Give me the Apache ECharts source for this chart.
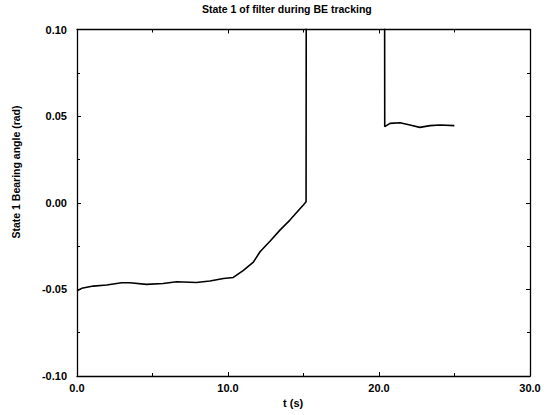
<!DOCTYPE html>
<html>
<head>
<meta charset="utf-8">
<script src="https://cdn.jsdelivr.net/npm/echarts@6/dist/echarts.min.js"></script>
<style>html,body{margin:0;padding:0;background:#fff;}#c{width:544px;height:415px;}</style>
</head>
<body>
<div id="c"></div>
<script>
const titleText = 'State 1 of filter during BE tracking';
const xName = 't (s)';
const yName = 'State 1 Bearing angle (rad)';
const xTicks = [0, 10, 20, 30];
const yTicks = [-0.10, -0.05, 0.00, 0.05, 0.10];

// time (s)
const tVals = [0, 0.31, 1.08, 1.96, 2.96, 3.5, 4.6, 5.7, 6.6, 7.9, 8.8, 9.7, 10.35, 11.0, 11.68, 12.12, 12.78, 13.44, 14.1, 14.99, 15.17, 15.2,
               20.35, 20.38, 20.73, 21.39, 22.05, 22.7, 23.38, 24.04, 24.99];
// state 1 bearing angle (rad); values above 0.10 are off scale
const yVals = [-0.0508, -0.0494, -0.0481, -0.0475, -0.0462, -0.0462, -0.0471, -0.0466, -0.0456, -0.0460, -0.0452, -0.0437, -0.0431, -0.0392, -0.0343, -0.0283, -0.0222, -0.0158, -0.0100, -0.0013, 0.0006, 0.30,
               0.30, 0.0439, 0.0458, 0.0462, 0.0449, 0.0435, 0.0445, 0.0449, 0.0445];

const data = tVals.map((t, i) => [t, yVals[i]]);

const chart = echarts.init(document.getElementById('c'), null, {renderer: 'svg'});
const font = 'Liberation Sans, Arial, sans-serif';
const axisCommon = {
  axisLine: {show: true, onZero: false, lineStyle: {color: '#000', width: 1.3}},
  axisTick: {show: true, inside: true, length: 4, lineStyle: {color: '#000'}},
  minorTick: {show: true, splitNumber: 2, length: 3, lineStyle: {color: '#000'}},
  splitLine: {show: false}
};
chart.setOption({
  animation: false,
  grid: {left: 77, right: 14, top: 29.5, bottom: 39},
  xAxis: [
    Object.assign({type: 'value', min: xTicks[0], max: xTicks[xTicks.length - 1], interval: 10, position: 'bottom',
      axisLabel: {color: '#000', fontFamily: font, fontWeight: 'bold', fontSize: 11, margin: 6,
        formatter: v => v.toFixed(1)}}, axisCommon),
    Object.assign({type: 'value', min: xTicks[0], max: xTicks[xTicks.length - 1], interval: 10, position: 'top',
      axisLabel: {show: false}}, axisCommon)
  ],
  yAxis: [
    Object.assign({type: 'value', min: yTicks[0], max: yTicks[yTicks.length - 1], interval: 0.05, position: 'left',
      axisLabel: {color: '#000', fontFamily: font, fontWeight: 'bold', fontSize: 11, margin: 10,
        formatter: v => (Math.abs(v) < 1e-9 ? 0 : v).toFixed(2)}}, axisCommon),
    Object.assign({type: 'value', min: yTicks[0], max: yTicks[yTicks.length - 1], interval: 0.05, position: 'right',
      axisLabel: {show: false}}, axisCommon)
  ],
  graphic: [
    {type: 'text', left: 202, top: 3, style: {text: titleText, fill: '#000', font: 'bold 10.5px Liberation Sans, Arial, sans-serif'}},
    {type: 'text', left: 283, top: 397, style: {text: xName, fill: '#000', font: 'bold 11px Liberation Sans, Arial, sans-serif'}},
    {type: 'text', x: 16, y: 172, rotation: Math.PI / 2,
      style: {text: yName, fill: '#000', align: 'center', verticalAlign: 'middle', font: 'bold 10.5px Liberation Sans, Arial, sans-serif'}}
  ],
  series: [{
    type: 'line', data: data, showSymbol: false, symbol: 'none', clip: true,
    lineStyle: {color: '#000', width: 1.6}
  }]
});
</script>
</body>
</html>
